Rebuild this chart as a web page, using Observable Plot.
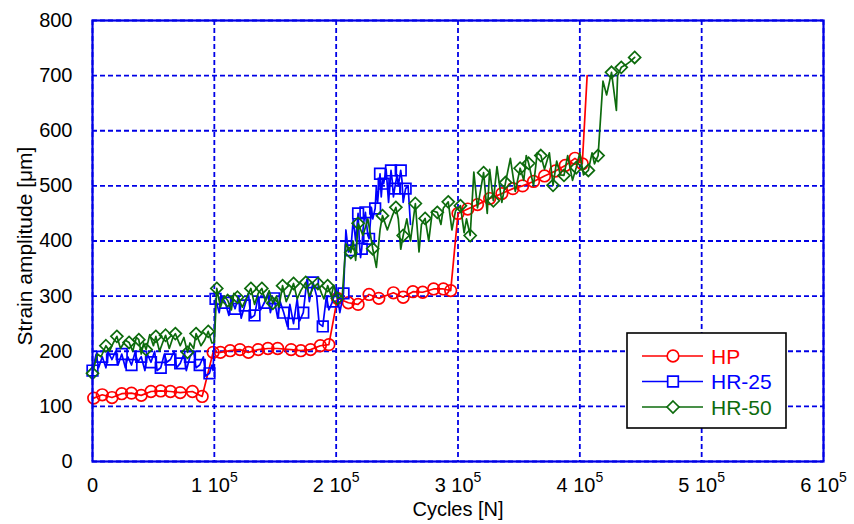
<!DOCTYPE html>
<html>
<head>
<meta charset="utf-8">
<script src="https://cdn.jsdelivr.net/npm/d3@7"></script>
<script src="https://cdn.jsdelivr.net/npm/@observablehq/plot@0.6"></script>
<style>
  html, body { margin: 0; padding: 0; background: #fff; }
  #chart { width: 854px; height: 524px; }
</style>
</head>
<body>
<div id="chart"></div>
<script>
// ---- data (cycles in thousands, strain amplitude in µm) ----
const seriesNames = ["HP", "HR-25", "HR-50"];
const xTicks = [0, 100000, 200000, 300000, 400000, 500000, 600000];
const yTicks = [0, 100, 200, 300, 400, 500, 600, 700, 800];
const xLabel = "Cycles [N]";
const yLabel = "Strain amplitude [\u03bcm]";

// HP: every vertex carries a marker; the final vertex has none
const hp = [
  [1,115],[8,121],[16,116],[24,123],[32,124],[40,120],[48,127],[56,128],[64,127],[72,125],[82,127],[90,118],
  [99,198],[105,198],[113,201],[121,203],[128,198],[136,203],[144,205],[152,205],[163,203],[171,201],[179,203],[187,210],[194,212],
  [201,296],[210,288],[218,285],[227,303],[235,296],[247,306],[255,298],[263,308],[271,307],[280,313],[288,313],[294,310],
  [300,450],[308,458],[316,466],[326,477],[336,486],[345,495],[353,500],[362,508],[371,518],[380,527],[388,537],[396,550],[402,540]
];
const hpEnd = [[406,700]];

// HR-25: marker on every third vertex
const hr25 = [
  [0,165],[3,195],[5,170],[8,190],[11,170],[13,198],[16,185],[19,200],[21,175],
  [24,195],[27,170],[29,190],[32,175],[35,198],[37,180],[40,190],[43,165],[45,195],
  [48,180],[51,200],[53,165],[56,170],[59,195],[61,180],[64,185],[67,200],[69,170],
  [72,178],[75,195],[77,165],[80,190],[83,200],[85,170],[88,175],[91,190],[93,155],
  [96,160],[98,175],[99,165],
  [101,295],[104,270],[106,300],[109,288],[112,265],[114,295],[117,277],[120,300],[122,260],
  [125,283],[128,305],[130,260],[133,265],[136,300],[138,275],[141,288],[144,305],[146,270],
  [149,296],[152,260],[154,290],[157,270],[160,245],[162,285],[165,250],[168,295],[170,255],
  [173,270],[176,330],[178,290],[181,325],[184,300],[186,250],[189,245],[192,300],[194,275],
  [197,290],[200,315],[203,270],[206,305],[208,420],[210,380],[212,383],[214,440],[216,400],
  [218,450],[219,400],[220,370],[221,386],[222,420],[223,440],[224,452],[225,430],[226,410],
  [227,404],[229,460],[230,440],[232,459],[233,500],[234,470],[236,522],[237,480],[238,510],
  [239,504],[241,530],[243,470],[245,528],[246,510],[247,480],[248,495],[250,520],[251,500],
  [253,528],[254,510],[255,470],[257,495],[259,500],[261,430]
];

// HR-50: marker on every third vertex
const hr50 = [
  [0,160],[4,195],[7,190],[11,210],[14,200],[17,215],[20,227],[23,205],[27,220],
  [30,216],[33,200],[36,225],[38,221],[40,195],[42,215],[44,203],[47,230],[50,210],
  [52,227],[55,200],[58,218],[60,229],[63,205],[66,225],[68,232],[72,210],[75,225],
  [78,198],[80,215],[83,205],[85,232],[89,210],[92,220],[95,236],[98,215],[100,216],
  [102,314],[105,280],[108,300],[111,292],[114,275],[116,305],[119,298],[123,280],[127,300],
  [130,314],[133,285],[136,305],[139,314],[142,290],[145,310],[148,287],[151,300],[153,280],
  [156,319],[159,290],[162,305],[165,323],[168,295],[171,310],[175,325],[178,300],[181,315],
  [185,323],[188,305],[190,295],[193,319],[196,300],[198,320],
  [201,296],[205,300],[208,395],[212,379],[214,400],[216,365],[218,432],[222,410],[226,440],
  [230,386],[233,352],[236,420],[238,446],[242,420],[246,445],[249,461],[251,440],[253,385],
  [255,410],[258,440],[261,400],[265,468],[268,380],[270,430],[273,441],[276,400],[279,455],
  [283,452],[286,430],[288,460],[292,471],[295,420],[298,455],
  [302,464],[305,415],[307,440],[310,410],[313,525],[316,460],[321,524],[324,450],[326,530],
  [329,473],[332,535],[336,470],[339,506],[343,550],[347,490],[351,532],[354,510],[356,555],
  [358,541],[362,500],[365,560],[368,555],[371,530],[375,560],[378,501],[381,545],[384,520],
  [387,519],[390,555],[394,510],[397,533],[400,560],[403,520],[407,528],[410,560],[412,540],
  [415,555],[419,690],[422,665],[426,706],[430,637],[431,700],[434,715],[438,720],[441,725],
  [445,733]
];

// ---- styling ----
const colors = {"HP": "#ff0000", "HR-25": "#0000ff", "HR-50": "#0d6b0d"};
const symbols = {"HP": "circle", "HR-25": "square", "HR-50": "diamond2"};
const radii = {"HP": 5.8, "HR-25": 6, "HR-50": 5.4};
const gridColor = "#0000e6";
const fontFamily = "'Liberation Sans', Arial, Helvetica, sans-serif";

const X = d => d[0] * 1000;
const Y = d => d[1];
const every3 = (d, i) => i % 3 === 0;

const lineData = {"HP": hp.concat(hpEnd), "HR-25": hr25, "HR-50": hr50};
const dotData = {"HP": hp, "HR-25": hr25.filter(every3), "HR-50": hr50.filter(every3)};

const marks = [
  Plot.gridX(xTicks, {stroke: gridColor, strokeOpacity: 1, strokeWidth: 1.8, strokeDasharray: "5,3"}),
  Plot.gridY(yTicks, {stroke: gridColor, strokeOpacity: 1, strokeWidth: 1.8, strokeDasharray: "5,3"})
];
for (const name of seriesNames) {
  marks.push(Plot.line(lineData[name], {x: X, y: Y, stroke: colors[name], strokeWidth: 1.7, curve: "linear"}));
  marks.push(Plot.dot(dotData[name], {x: X, y: Y, stroke: colors[name], fill: "none", strokeWidth: 1.7,
                                      symbol: symbols[name], r: radii[name]}));
}
marks.push(
  Plot.frame({stroke: gridColor, strokeWidth: 2.2}),
  Plot.axisX(xTicks, {tickSize: 0, tickPadding: 16, fontSize: 20, fill: "#000", label: null,
    tickFormat: d => d === 0 ? "0" : `${d / 100000} 10\u2075`}),
  Plot.axisY(yTicks, {tickSize: 0, tickPadding: 20, fontSize: 20, fill: "#000", label: null}),
  Plot.text([xLabel], {frameAnchor: "bottom", textAnchor: "middle", dy: 54, fontSize: 20, fill: "#000", text: d => d}),
  Plot.text([yLabel], {frameAnchor: "left", textAnchor: "middle", rotate: -90, dx: -67, dy: 5, fontSize: 21, fill: "#000", text: d => d})
);

const chart = Plot.plot({
  width: 854,
  height: 524,
  marginLeft: 92,
  marginRight: 31,
  marginTop: 20,
  marginBottom: 63,
  style: {fontFamily, fontSize: "20px", background: "#fff", color: "#000", overflow: "visible"},
  x: {domain: [0, 600000]},
  y: {domain: [0, 800]},
  marks
});
document.getElementById("chart").appendChild(chart);

// superscript exponent on x tick labels
const svg = d3.select(chart);
svg.selectAll("text").each(function () {
  const t = this.textContent;
  if (t && t.endsWith("\u2075") && this.childElementCount === 0) {
    const base = t.slice(0, -1);
    const el = d3.select(this);
    el.text(base);
    el.append("tspan").attr("dy", -10).attr("font-size", 14).text("5");
  }
});

// legend (drawn inside the plot SVG)
const lg = svg.append("g").attr("font-family", fontFamily).attr("text-anchor", "start");
lg.append("rect").attr("x", 627).attr("y", 333).attr("width", 159).attr("height", 95)
  .attr("fill", "#fff").attr("stroke", "#000").attr("stroke-width", 1.6);
const symMap = {"circle": d3.symbolCircle, "square": d3.symbolSquare, "diamond2": d3.symbolDiamond2};
seriesNames.forEach((name, i) => {
  const y = 356 + i * 25.5;
  lg.append("line").attr("x1", 642).attr("x2", 703).attr("y1", y).attr("y2", y)
    .attr("stroke", colors[name]).attr("stroke-width", 1.7);
  const r = radii[name];
  lg.append("path").attr("transform", `translate(673,${y})`)
    .attr("d", d3.symbol(symMap[symbols[name]], r * r * Math.PI)())
    .attr("fill", "#fff").attr("stroke", colors[name]).attr("stroke-width", 1.7);
  lg.append("text").attr("x", 711).attr("y", y + 7.5).attr("font-size", 21)
    .attr("text-anchor", "start").attr("fill", colors[name]).text(name);
});
</script>
</body>
</html>
